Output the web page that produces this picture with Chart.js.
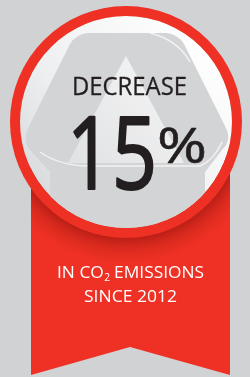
<!DOCTYPE html>
<html>
<head>
<meta charset="utf-8">
<script src="https://cdn.jsdelivr.net/npm/chart.js@4/dist/chart.umd.min.js"></script>
<style>
  html,body{margin:0;padding:0;background:#d1d2d4;}
  #wrap{width:250px;height:377px;position:relative;}
</style>
</head>
<body>
<div id="wrap"><canvas id="c" width="250" height="377"></canvas></div>
<script>
// ---- data ----
const ringLabels = ['Badge'];
const ringValues = [100];
const diskValues = [100];
const headline = ['DECREASE'];
const valueNumber = [15];
const valueUnit = ['%'];
const captionLines = ['IN CO', 'EMISSIONS', 'SINCE 2012'];
const captionSub = ['2'];

const RED = '#ee3124';
const TEXT_DARK = '#231f20';

function fitText(ctx, text, x, baseline, font, targetWidth, strokeW) {
  ctx.save();
  ctx.font = font;
  const w = ctx.measureText(text).width;
  const sx = targetWidth / w;
  ctx.translate(x, baseline);
  ctx.scale(sx, 1);
  ctx.textBaseline = 'alphabetic';
  ctx.textAlign = 'left';
  ctx.fillText(text, 0, 0);
  if (strokeW) {
    ctx.lineJoin = 'round';
    ctx.strokeStyle = ctx.fillStyle;
    ctx.lineWidth = strokeW;
    ctx.strokeText(text, 0, 0);
  }
  ctx.restore();
  return targetWidth;
}

const badgePlugin = {
  id: 'badge',
  beforeDraw(chart) {
    const ctx = chart.ctx;
    ctx.save();
    ctx.fillStyle = '#d1d2d4';
    ctx.fillRect(0, 0, chart.width, chart.height);
    ctx.restore();
  },
  beforeDatasetsDraw(chart) {
    const ctx = chart.ctx;
    const meta = chart.getDatasetMeta(0);
    const arc = meta.data[0];
    const cx = arc.x, cy = arc.y, R = arc.outerRadius;
    // ribbon
    ctx.save();
    ctx.beginPath();
    ctx.moveTo(31, 150);
    ctx.lineTo(230, 150);
    ctx.lineTo(230, 375);
    ctx.lineTo(130, 347);
    ctx.lineTo(31, 375);
    ctx.closePath();
    ctx.fillStyle = RED;
    ctx.fill();
    ctx.clip();
    const g = ctx.createRadialGradient(cx, cy, R - 2, cx, cy, R + 26);
    g.addColorStop(0, 'rgba(160,22,16,0.75)');
    g.addColorStop(0.45, 'rgba(180,28,20,0.35)');
    g.addColorStop(1, 'rgba(200,35,25,0)');
    ctx.fillStyle = g;
    ctx.fillRect(0, 150, 250, 130);
    ctx.restore();
  },
  afterDatasetsDraw(chart) {
    const ctx = chart.ctx;
    const meta = chart.getDatasetMeta(1);
    const arc = meta.data[0];
    const cx = arc.x, cy = arc.y, r = arc.outerRadius;
    // recycling symbol (approximate), clipped to inner disk
    ctx.save();
    ctx.beginPath();
    ctx.arc(cx, cy, r, 0, Math.PI * 2);
    ctx.clip();
    ctx.lineJoin = 'round';
    // outer grey shape
    ctx.beginPath();
    ctx.moveTo(88, 33);
    ctx.lineTo(166, 33);
    ctx.quadraticCurveTo(178, 34, 184, 44);
    ctx.lineTo(226, 128);
    ctx.quadraticCurveTo(232, 140, 222, 150);
    ctx.lineTo(205, 172);
    ctx.lineTo(205, 240);
    ctx.lineTo(50, 240);
    ctx.lineTo(50, 172);
    ctx.lineTo(30, 150);
    ctx.quadraticCurveTo(22, 140, 29, 126);
    ctx.lineTo(70, 44);
    ctx.quadraticCurveTo(76, 34, 88, 33);
    ctx.closePath();
    ctx.fillStyle = '#d3d4d6';
    ctx.fill();
    // inner lighter triangle
    ctx.beginPath();
    ctx.moveTo(126, 56);
    ctx.lineTo(184, 163);
    ctx.lineTo(68, 163);
    ctx.closePath();
    const tg = ctx.createLinearGradient(80, 160, 170, 60);
    tg.addColorStop(0, '#e2e3e4');
    tg.addColorStop(1, '#f5f5f6');
    ctx.fillStyle = tg;
    ctx.fill();
    // white gap lines
    ctx.strokeStyle = 'rgba(255,255,255,0.7)';
    ctx.lineWidth = 1.5;
    ctx.beginPath();
    ctx.moveTo(40, 152);
    ctx.quadraticCurveTo(60, 166, 90, 166);
    ctx.lineTo(200, 166);
    ctx.quadraticCurveTo(214, 160, 222, 142);
    ctx.stroke();
    ctx.beginPath();
    ctx.moveTo(150, 33);
    ctx.quadraticCurveTo(178, 40, 190, 62);
    ctx.stroke();
    ctx.restore();

    // texts
    ctx.save();
    ctx.fillStyle = TEXT_DARK;
    fitText(ctx, headline[0], 72, 95, '400 25px "Open Sans"', 115, 0.3);
    fitText(ctx, String(valueNumber[0]), 67, 189, '400 100px "Open Sans"', 90, 2.2);
    fitText(ctx, valueUnit[0], 157, 163, '400 50px "Open Sans"', 50, 0.6);
    ctx.fillStyle = '#ffffff';
    // caption line 1 with subscript
    ctx.font = '400 17px "Open Sans"';
    const a = ctx.measureText(captionLines[0]).width;
    ctx.font = '400 10px "Open Sans"';
    const s = ctx.measureText(captionSub[0]).width;
    ctx.font = '400 17px "Open Sans"';
    const sp = ctx.measureText(' ').width;
    const b = ctx.measureText(captionLines[1]).width;
    const total = a + s + sp + b;
    const target = 147;
    const sx = target / total;
    ctx.save();
    ctx.translate(57, 278);
    ctx.scale(sx, 1);
    ctx.textBaseline = 'alphabetic';
    ctx.fillText(captionLines[0], 0, 0);
    ctx.font = '400 10px "Open Sans"';
    ctx.fillText(captionSub[0], a + 0.5, 3);
    ctx.font = '400 17px "Open Sans"';
    ctx.fillText(captionLines[1], a + s + sp, 0);
    ctx.restore();
    fitText(ctx, captionLines[2], 84, 302, '400 17px "Open Sans"', 93);
    ctx.restore();
  }
};

const ctx = document.getElementById('c').getContext('2d');
new Chart(ctx, {
  type: 'doughnut',
  data: {
    labels: ringLabels,
    datasets: [
      {
        data: ringValues,
        backgroundColor: RED,
        borderWidth: 0,
        weight: 10
      },
      {
        data: diskValues,
        backgroundColor: (c) => {
          const ch = c.chart;
          const area = ch.chartArea;
          if (!area) return '#f2f2f2';
          const g = ch.ctx.createLinearGradient(area.left + 20, area.bottom - 20, area.right - 30, area.top + 40);
          g.addColorStop(0, '#d4d5d7');
          g.addColorStop(0.45, '#eeeff0');
          g.addColorStop(1, '#ffffff');
          return g;
        },
        borderWidth: 0,
        weight: 106
      }
    ]
  },
  options: {
    responsive: false,
    animation: false,
    cutout: 0,
    layout: { padding: { left: 10, right: 8, top: 6, bottom: 139 } },
    plugins: { legend: { display: false }, tooltip: { enabled: false } },
    events: []
  },
  plugins: [badgePlugin]
});
</script>
</body>
</html>
